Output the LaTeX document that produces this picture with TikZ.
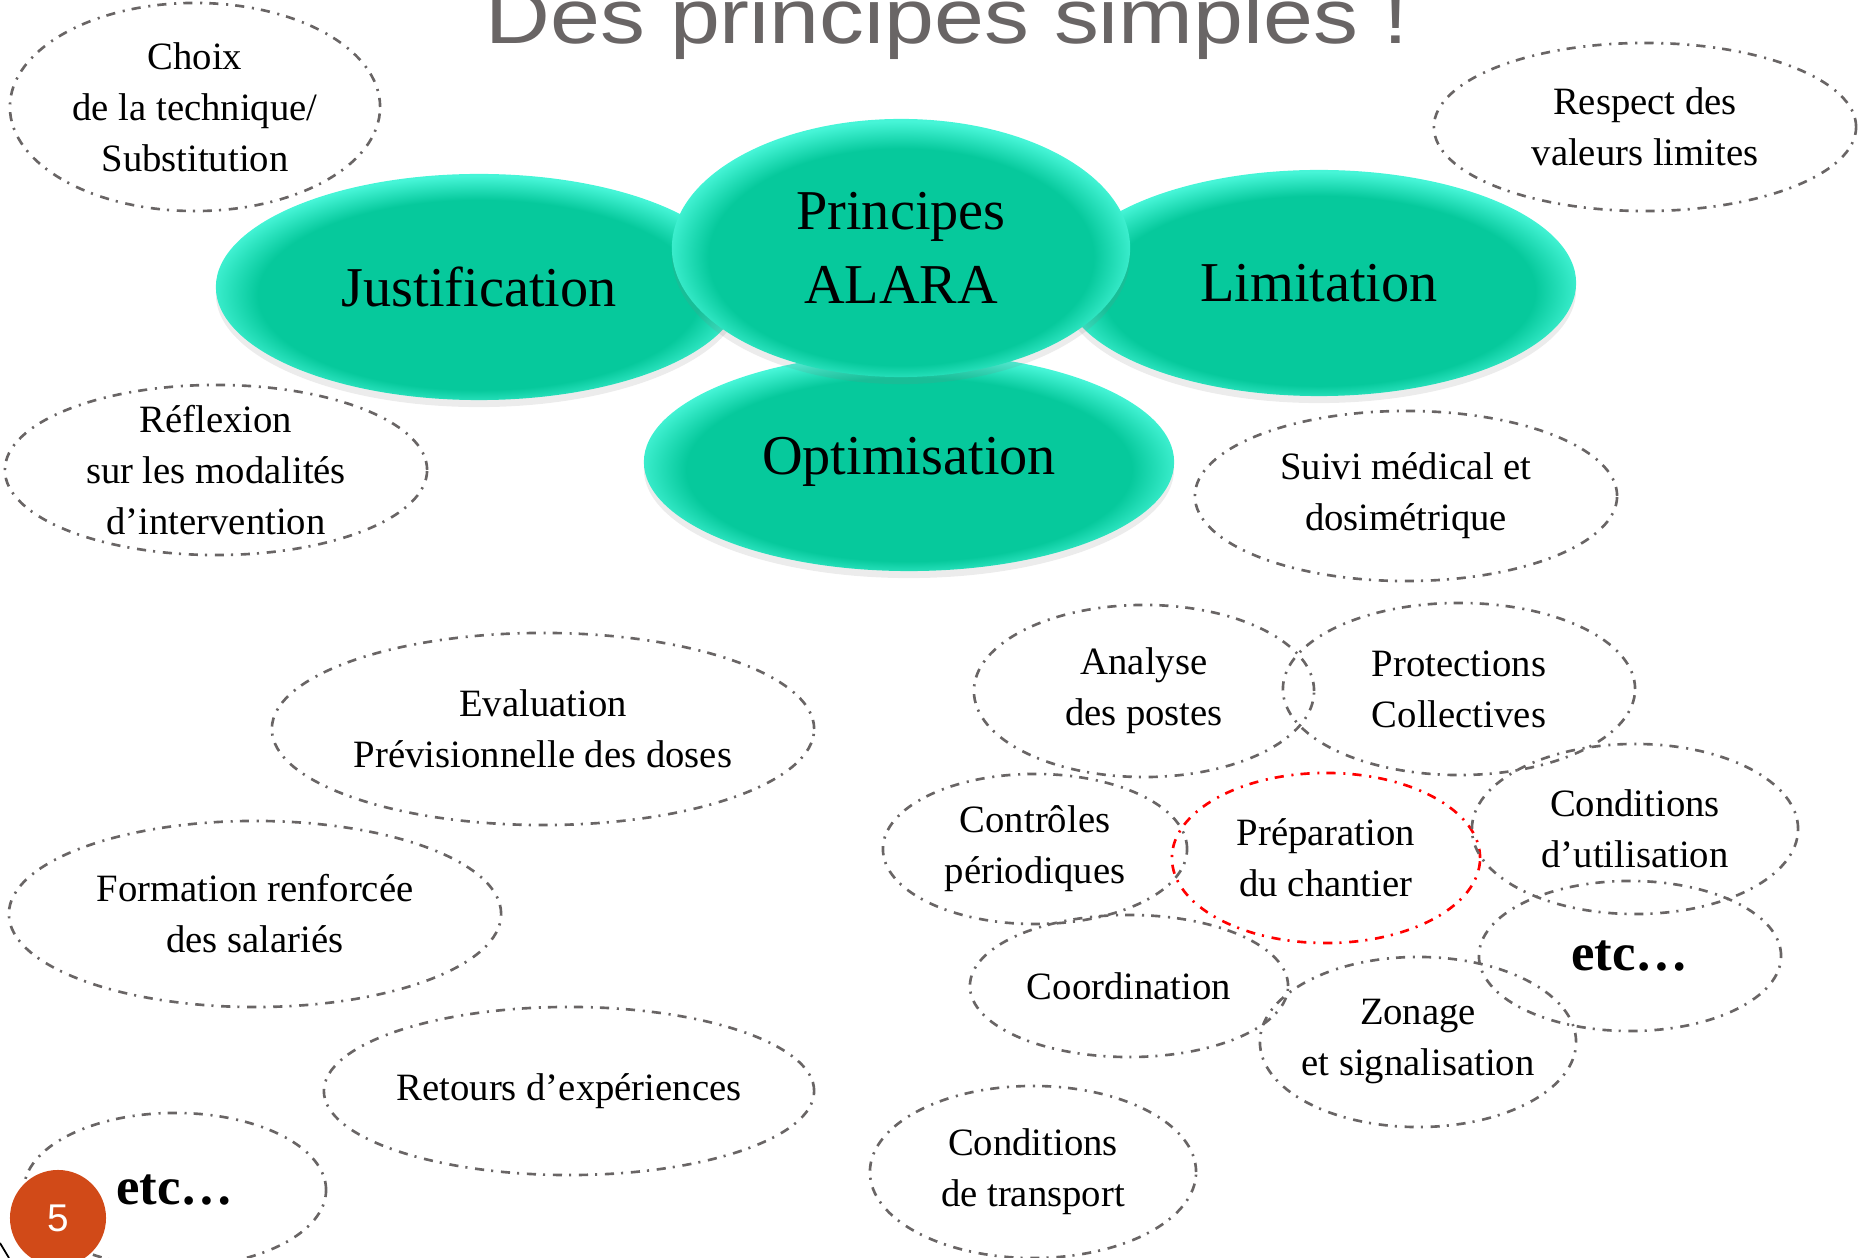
\documentclass[tikz,border=0pt]{standalone}
\usepackage{fontspec}
\setmainfont{Liberation Serif}
\newfontfamily\titlefont{Liberation Sans}
\usetikzlibrary{shapes.geometric, shadows}
\definecolor{alaraMain}{RGB}{6,201,156}
\definecolor{alaraLight}{RGB}{70,245,215}
\definecolor{lineGray}{RGB}{105,101,101}
\definecolor{slideOrange}{RGB}{209,74,24}
\pgfdeclareradialshading{alararim}{\pgfpoint{0bp}{-3bp}}{color(0bp)=(alaraMain); color(21bp)=(alaraMain); color(26bp)=(alaraLight); color(50bp)=(alaraLight)}
\tikzset{
 bubble/.style={draw=lineGray, shape=ellipse, line width=0.75pt,
    dash pattern=on 2.6pt off 2pt on 0.6pt off 2.2pt,
    inner sep=0pt, align=center, font=\fontsize{11}{14.5}\selectfont}
}

\begin{document}
\begin{tikzpicture}[x=0.01cm, y=-0.01cm]
\tikzstyle{principe}=[ellipse, shading=alararim, inner sep=0pt, align=center,
  drop shadow={shadow xshift=0pt, shadow yshift=-2pt, opacity=0.15},
  font=\fontsize{16}{21}\selectfont]
\tikzstyle{etc}=[bubble, font=\fontsize{15}{18}\selectfont\bfseries]
\useasboundingbox (0,0) rectangle (1862,1258);
% 1. Bubbles
%%%%%%%%%%%%
\node[bubble, minimum width=3.70cm, minimum height=2.08cm] (choix) at (195,107)
  {Choix\\de la technique/\\Substitution};
\node[bubble, minimum width=4.22cm, minimum height=1.68cm] (respect) at (1645,127)
  {Respect des\\valeurs limites};
\node[bubble, inner ysep=-3.5pt, minimum width=4.22cm, minimum height=1.70cm] (reflexion) at (216,470)
  {Réflexion\\sur les modalités\\d’intervention};
\node[bubble, minimum width=4.22cm, minimum height=1.70cm] (suivi) at (1406,496)
  {Suivi médical et\\dosimétrique};
\node[bubble, minimum width=5.42cm, minimum height=1.92cm] (evaluation) at (543,729)
  {Evaluation\\Prévisionnelle des doses};
\node[bubble, minimum width=4.92cm, minimum height=1.86cm] (formation) at (255,914)
  {Formation renforcée\\des salariés};
\node[bubble, minimum width=4.90cm, minimum height=1.68cm] (retours) at (569,1091)
  {Retours d’expériences};
\node[etc, minimum width=3.02cm, minimum height=1.54cm] (etcleft) at (175,1190) {etc\dots};
\node[bubble, minimum width=3.40cm, minimum height=1.72cm] (analyse) at (1144,691)
  {Analyse\\des postes};
\node[bubble, minimum width=3.52cm, minimum height=1.72cm] (protections) at (1459,689)
  {Protections\\Collectives};
\node[bubble, minimum width=3.04cm, minimum height=1.50cm] (controles) at (1035,849)
  {Contrôles\\périodiques};
\node[bubble, draw=red, minimum width=3.08cm, minimum height=1.70cm] (preparation) at (1326,858)
  {Préparation\\du chantier};
\node[bubble, minimum width=3.26cm, minimum height=1.70cm] (utilisation) at (1635,829)
  {Conditions\\d’utilisation};
\node[etc, minimum width=3.02cm, minimum height=1.50cm] (etcright) at (1630,956) {etc\dots};
\node[bubble, minimum width=3.18cm, minimum height=1.42cm] (coordination) at (1129,986)
  {Coordination};
\node[bubble, inner xsep=-3pt, minimum width=3.16cm, minimum height=1.70cm] (zonage) at (1418,1042)
  {Zonage\\et signalisation};
\node[bubble, minimum width=3.26cm, minimum height=1.72cm] (transport) at (1033,1172)
  {Conditions\\de transport};
% 2. Principles
%%%%%%%%%%%%%%%
\node[principe, minimum width=5.30cm, minimum height=2.18cm] (optimisation) at (909,462) {Optimisation};
\node[principe, minimum width=5.26cm, minimum height=2.26cm] (justification) at (479,287) {Justification};
\node[principe, minimum width=5.14cm, minimum height=2.26cm] (limitation) at (1319,283) {Limitation};
\node[principe, minimum width=4.58cm, minimum height=2.58cm] (alara) at (901,248) {Principes\\ALARA};
% 3. Title and page number
%%%%%%%%%%%%%%%%%%%%%%%%%%
\node[anchor=base, text=lineGray, inner sep=0pt] (title) at (947,44)
  {\titlefont\fontsize{22}{26}\selectfont\scalebox{1.16}[1]{Des principes simples !}};
\draw[black, line width=0.5pt] (0,1243) -- (9,1258);
\node[circle, fill=slideOrange, minimum size=0.96cm, inner sep=0pt, text=white,
  font=\titlefont\fontsize{11}{13}\selectfont] (pagenum) at (58,1218) {5};
\end{tikzpicture}
\end{document}
